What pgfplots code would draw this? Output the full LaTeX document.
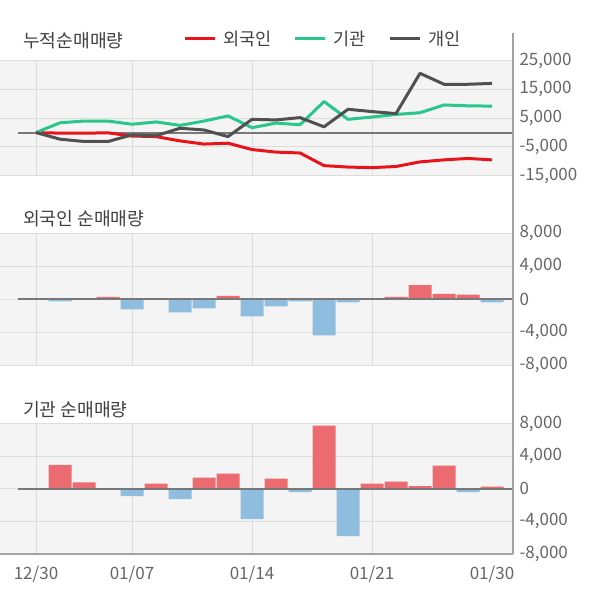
\documentclass[border=0pt]{standalone}
\usepackage{fontspec}
\setmainfont{Noto Sans CJK KR}
\usepackage{pgfplots}
\pgfplotsset{compat=1.18}
\definecolor{bg}{HTML}{F4F4F4}
\definecolor{gridc}{HTML}{DCDCDC}
\definecolor{zeroc}{HTML}{787878}
\definecolor{axc}{HTML}{A3A3A3}
\definecolor{lred}{HTML}{E8141C}
\definecolor{lgreen}{HTML}{2AC68C}
\definecolor{lgray}{HTML}{505050}
\definecolor{bred}{HTML}{EB6B70}
\definecolor{bblue}{HTML}{8FBDE0}
\definecolor{tickc}{HTML}{666666}
\definecolor{titc}{HTML}{404040}
\pgfplotsset{
  panel/.style={
    scale only axis, width=513pt, xmin=-1.5, xmax=19.875,
    axis background/.style={fill=bg},
    axis line style={draw=none},
    xtick={0,4,9,14}, xticklabels={},
    xmajorgrids, ymajorgrids,
    major grid style={gridc, line width=0.9pt},
    major tick length=0pt,
    yticklabel pos=right,
    yticklabel style={anchor=west, xshift=3pt, text=tickc, font=\fontsize{17}{19}\selectfont},
    scaled y ticks=false,
    /pgf/number format/assume math mode=true,
    /pgf/number format/fixed,
    /pgf/number format/1000 sep={,},
  },
  posbar/.style={ybar, bar width=23pt, bar shift=0pt, fill=bred, draw=none},
  negbar/.style={ybar, bar width=23pt, bar shift=0pt, fill=bblue, draw=none},
}
\begin{document}
\begin{tikzpicture}[x=1pt,y=1pt]
\useasboundingbox (0,0) rectangle (600,604);
% ---------------- top panel: cumulative
\begin{axis}[panel, at={(0pt,428.3pt)}, anchor=south west, height=115pt,
  ymin=-15000, ymax=25000, ytick={-15000,-5000,5000,15000,25000},
  legend style={at={(rel axis cs:0.3567,1.19)}, anchor=west, draw=none, fill=none,
    inner sep=0pt, legend columns=3, font=\fontsize{17.5}{19}\selectfont, text=titc,
    /tikz/every even column/.append style={column sep=20pt}},
  legend image code/.code={\draw[line width=3.3pt] (0pt,0pt) -- (30pt,0pt); \path (35pt,0pt);},
  ]
\addplot[zeroc, line width=2pt, forget plot] coordinates {(-0.75,0) (19.875,0)};
\addplot[lred, line width=3pt, line join=round] coordinates {
(0,0) (1,-200) (2,-200) (3,-100) (4,-1200) (5,-1400) (6,-2900) (7,-4000) (8,-3700) (9,-5900)
(10,-6800) (11,-7100) (12,-11500) (13,-12000) (14,-12200) (15,-11800) (16,-10200) (17,-9500) (18,-9000) (19,-9500)};
\addlegendentry{외국인}
\addplot[lgreen, line width=3pt, line join=round] coordinates {
(0,0) (1,3400) (2,4000) (3,4000) (4,2900) (5,3700) (6,2500) (7,4000) (8,5800) (9,1700)
(10,3300) (11,2700) (12,10800) (13,4600) (14,5400) (15,6300) (16,6900) (17,9600) (18,9300) (19,9200)};
\addlegendentry{기관}
\addplot[lgray, line width=3pt, line join=round] coordinates {
(0,0) (1,-2300) (2,-3100) (3,-3100) (4,-800) (5,-1100) (6,1500) (7,900) (8,-1400) (9,4600)
(10,4400) (11,5200) (12,2000) (13,8100) (14,7300) (15,6600) (16,20600) (17,16800) (18,16800) (19,17100)};
\addlegendentry{개인}
\end{axis}
% ---------------- middle panel: foreign
\begin{axis}[panel, at={(0pt,239pt)}, anchor=south west, height=131.7pt,
  ymin=-8000, ymax=8000, ytick={-8000,-4000,0,4000,8000}]
\addplot[posbar] coordinates {(3,280) (8,400) (15,280) (16,1700) (17,650) (18,550)};
\addplot[negbar] coordinates {(1,-280) (4,-1250) (6,-1600) (7,-1130) (9,-2100) (10,-890) (11,-280) (12,-4400) (13,-400) (19,-400)};
\addplot[zeroc, line width=2pt] coordinates {(-0.75,0) (19.875,0)};
\end{axis}
% ---------------- bottom panel: institution
\begin{axis}[panel, at={(0pt,50pt)}, anchor=south west, height=130.3pt,
  ymin=-8000, ymax=8000, ytick={-8000,-4000,0,4000,8000},
  xticklabels={12/30,01/07,01/14,01/21},
  extra x ticks={19}, extra x tick labels={01/30}, extra x tick style={grid=none},
  xticklabel style={text=tickc, font=\fontsize{17}{19}\selectfont, yshift=-8pt}]
\addplot[posbar] coordinates {(1,2940) (2,780) (5,650) (7,1390) (8,1880) (10,1270) (12,7760) (14,650) (15,900) (16,320) (17,2860) (19,260)};
\addplot[negbar] coordinates {(4,-900) (6,-1270) (9,-3710) (11,-400) (13,-5800) (18,-400)};
\addplot[zeroc, line width=2pt] coordinates {(-0.75,0) (19.875,0)};
\end{axis}
% decorations: titles and frame lines
\draw[axc, line width=1.5pt] (513,571) -- (513,50);
\draw[axc, line width=2pt] (0,50) -- (513,50);
\node[anchor=west, inner sep=0pt, text=titc, font=\fontsize{18.2}{21}\selectfont] at (23,563.5) {누적순매매량};
\node[anchor=west, inner sep=0pt, text=titc, font=\fontsize{18.2}{21}\selectfont] at (23,385.5) {외국인 순매매량};
\node[anchor=west, inner sep=0pt, text=titc, font=\fontsize{18.2}{21}\selectfont] at (23,194.3) {기관 순매매량};
\end{tikzpicture}
\end{document}
